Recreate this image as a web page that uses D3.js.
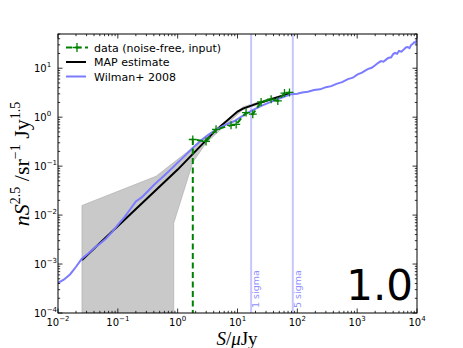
<!DOCTYPE html>
<html>
<head>
<meta charset="utf-8">
<script src="https://cdn.jsdelivr.net/npm/d3@7"></script>
<style>
  body { margin: 0; background: #fff; }
  svg { display: block; }
</style>
</head>
<body>
<div id="chart"></div>
<script>
// Wilman+ 2008 curve
const wilmanS = [0.01, 0.0125, 0.016, 0.02, 0.025, 0.032, 0.04, 0.05, 0.063, 0.08, 0.1, 0.13, 0.16, 0.2, 0.25, 0.32, 0.4, 0.5, 0.63, 0.8, 1.0, 1.3, 1.8, 2.5, 3.2, 4.4, 6, 8.9, 12, 16.9, 25, 36, 50, 79, 100, 120, 150, 190, 240, 300, 370, 450, 560, 700, 850, 1000, 1200, 1500, 1750, 2000, 2250, 2500, 2750, 3000, 3300, 3700, 4000, 4300, 4650, 5000, 5500, 6000, 6500, 7000, 7500, 8000, 8500, 9000, 9500, 10000];
const wilmanN = [0.00041, 0.00048, 0.00062, 0.00088, 0.00128, 0.00165, 0.0021, 0.0026, 0.0033, 0.0045, 0.0063, 0.0092, 0.013, 0.019, 0.023, 0.031, 0.041, 0.053, 0.068, 0.090, 0.118, 0.16, 0.238, 0.34, 0.43, 0.56, 0.68, 0.835, 1.05, 1.34, 1.7, 2.05, 2.4, 2.95, 3.0, 3.2, 3.3, 3.6, 3.7, 4.1, 4.3, 4.8, 5.2, 6.0, 6.4, 7.4, 8.1, 9.6, 10.2, 11.5, 12.9, 14.0, 13.6, 14.8, 16.2, 16.7, 19.5, 20.5, 19.8, 22.5, 21.8, 24, 26.5, 27, 25.8, 30, 31.5, 34, 33, 40];

// MAP estimate
const mapS = [0.0252, 1.0, 4.4, 10, 12.3, 20, 74];
const mapN = [0.00121, 0.085, 0.55, 1.3, 1.5, 1.85, 3.05];

// uncertainty band (upper edge left->right, lower edge right->left)
const bandUpperS = [0.0252, 0.436, 1.79, 3, 5, 12.3, 20, 74];
const bandUpperN = [0.0157, 0.062, 0.24, 0.38, 0.60, 1.62, 1.95, 3.1];
const bandLowerS = [74, 20, 12.3, 5, 3, 1.79, 0.86, 0.86, 0.0252];
const bandLowerN = [3.0, 1.75, 1.42, 0.53, 0.30, 0.12, 0.0069, 0.0001, 0.0001];

// data (noise-free, input); first value is effectively zero
const dataS = [1.79, 1.79, 2.98, 4.38, 7.8, 9.5, 13.9, 18, 24.8, 36.5, 47.2, 61, 74];
const dataN = [1e-6, 0.35, 0.32, 0.565, 0.68, 0.71, 1.24, 1.15, 2.05, 2.33, 2.15, 3.1, 3.2];

// sigma lines
const sigmaS = [16.9, 84];
const sigmaLabels = ["1 sigma", "5 sigma"];

const xTickVals = [1e-2, 1e-1, 1e0, 1e1, 1e2, 1e3, 1e4];
const xTickExp = ["-2", "-1", "0", "1", "2", "3", "4"];
const yTickVals = [1e-4, 1e-3, 1e-2, 1e-1, 1e0, 1e1];
const yTickExp = ["-4", "-3", "-2", "-1", "0", "1"];

const legendLabels = ["data (noise-free, input)", "MAP estimate", "Wilman+ 2008"];

const width = 463;
const height = 348;
const margin = {top: 34, right: 46, bottom: 35, left: 58};

const svg = d3.select("#chart")
    .append("svg")
    .attr("width", width)
    .attr("height", height);

const xScale = d3.scaleLog()
    .domain([1e-2, 1e4])
    .range([margin.left, width - margin.right]);

const yScale = d3.scaleLog()
    .domain([1e-4, 50])
    .range([height - margin.bottom, margin.top]);

svg.append("clipPath").attr("id", "plot-clip")
    .append("rect")
    .attr("x", margin.left)
    .attr("y", margin.top)
    .attr("width", width - margin.left - margin.right)
    .attr("height", height - margin.top - margin.bottom);

const plot = svg.append("g").attr("clip-path", "url(#plot-clip)");

const line = d3.line()
    .x(d => xScale(d[0]))
    .y(d => yScale(d[1]));

// grey band
const bandPts = bandUpperS.map((s, i) => [s, bandUpperN[i]])
    .concat(bandLowerS.map((s, i) => [s, bandLowerN[i]]));
plot.append("path")
    .attr("d", line(bandPts) + "Z")
    .attr("fill", "#c9c9c9")
    .attr("stroke", "#b5b5b5")
    .attr("stroke-width", 0.8);

// sigma lines
sigmaS.forEach((s, i) => {
    plot.append("line")
        .attr("x1", xScale(s)).attr("x2", xScale(s))
        .attr("y1", margin.top).attr("y2", height - margin.bottom)
        .attr("stroke", "#c6c6ff")
        .attr("stroke-width", 2);
    svg.append("text")
        .attr("transform", `translate(${xScale(s) + 8},${height - margin.bottom - 5}) rotate(-90)`)
        .attr("font-family", "DejaVu Sans")
        .attr("font-size", 9.5)
        .attr("fill", "#8f8fff")
        .text(sigmaLabels[i]);
});

// MAP
plot.append("path")
    .attr("d", line(mapS.map((s, i) => [s, mapN[i]])))
    .attr("fill", "none")
    .attr("stroke", "#000")
    .attr("stroke-width", 2);

// Wilman
plot.append("path")
    .attr("d", line(wilmanS.map((s, i) => [s, wilmanN[i]])))
    .attr("fill", "none")
    .attr("stroke", "#7b7bff")
    .attr("stroke-width", 2);

// data
const dataPts = dataS.map((s, i) => [s, dataN[i]]);
plot.append("path")
    .attr("d", line(dataPts))
    .attr("fill", "none")
    .attr("stroke", "#008000")
    .attr("stroke-width", 2)
    .attr("stroke-dasharray", "6,3.5");

function plus(g, cx, cy, size) {
    g.append("path")
        .attr("d", `M${cx - size},${cy}H${cx + size}M${cx},${cy - size}V${cy + size}`)
        .attr("stroke", "#008000")
        .attr("stroke-width", 1.3)
        .attr("fill", "none");
}
dataPts.forEach(d => plus(plot, xScale(d[0]), yScale(d[1]), 4));

// "1.0" label
svg.append("text")
    .attr("x", 413)
    .attr("y", 299.5)
    .attr("text-anchor", "end")
    .attr("font-family", "DejaVu Sans")
    .attr("font-size", 42)
    .text("1.0");

// frame
svg.append("rect")
    .attr("x", margin.left)
    .attr("y", margin.top)
    .attr("width", width - margin.left - margin.right)
    .attr("height", height - margin.top - margin.bottom)
    .attr("fill", "none")
    .attr("stroke", "#000")
    .attr("stroke-width", 1);

// ticks (inward, all four sides)
const minorX = [];
for (let e = -2; e < 4; e++) for (let m = 2; m <= 9; m++) minorX.push(m * Math.pow(10, e));
const minorY = [];
for (let e = -4; e < 2; e++) for (let m = 2; m <= 9; m++) {
    const v = m * Math.pow(10, e);
    if (v <= 50) minorY.push(v);
}
const bottom = height - margin.bottom;
const right = width - margin.right;
const tickG = svg.append("g").attr("stroke", "#000").attr("stroke-width", 0.8);
function xTick(v, len) {
    const x = xScale(v);
    tickG.append("line").attr("x1", x).attr("x2", x).attr("y1", bottom).attr("y2", bottom - len);
    tickG.append("line").attr("x1", x).attr("x2", x).attr("y1", margin.top).attr("y2", margin.top + len);
}
function yTick(v, len) {
    const y = yScale(v);
    tickG.append("line").attr("x1", margin.left).attr("x2", margin.left + len).attr("y1", y).attr("y2", y);
    tickG.append("line").attr("x1", right).attr("x2", right - len).attr("y1", y).attr("y2", y);
}
xTickVals.forEach(v => xTick(v, 4.5));
minorX.forEach(v => xTick(v, 2.2));
yTickVals.forEach(v => yTick(v, 4.5));
minorY.forEach(v => yTick(v, 2.2));

// tick labels
xTickVals.forEach((v, i) => {
    const t = svg.append("text")
        .attr("x", xScale(v))
        .attr("y", bottom + 12.5)
        .attr("text-anchor", "middle")
        .attr("font-family", "DejaVu Sans")
        .attr("font-size", 10);
    t.append("tspan").text("10");
    t.append("tspan").attr("dy", -5).attr("font-size", 7).text(xTickExp[i].replace("-", "\u2212"));
});
yTickVals.forEach((v, i) => {
    const t = svg.append("text")
        .attr("x", 34)
        .attr("y", yScale(v) + 3.8)
        .attr("font-family", "DejaVu Sans")
        .attr("font-size", 10);
    t.append("tspan").text("10");
    t.append("tspan").attr("dy", -5).attr("font-size", 7).text(yTickExp[i].replace("-", "\u2212"));
});

// axis labels
const xl = svg.append("text")
    .attr("x", 237)
    .attr("y", 344.5)
    .attr("text-anchor", "middle")
    .attr("font-family", "Liberation Serif")
    .attr("font-size", 19);
xl.append("tspan").attr("font-style", "italic").text("S");
xl.append("tspan").text("/");
xl.append("tspan").attr("font-style", "italic").text("\u03bc");
xl.append("tspan").text("Jy");

const yl = svg.append("text")
    .attr("transform", "translate(29,164) rotate(-90)")
    .attr("text-anchor", "middle")
    .attr("font-family", "Liberation Serif")
    .attr("font-size", 22);
yl.append("tspan").attr("font-style", "italic").text("nS");
yl.append("tspan").attr("dy", -9).attr("font-size", 14).text("2.5");
yl.append("tspan").attr("dy", 9).text(" /sr");
yl.append("tspan").attr("dy", -9).attr("font-size", 14).text("\u22121");
yl.append("tspan").attr("dy", 9).text(" Jy");
yl.append("tspan").attr("dy", -9).attr("font-size", 14).text("1.5");

// legend
const legendRows = [47.5, 62, 76.5];
const lg = svg.append("g");
legendRows.forEach((y, i) => {
    if (i === 0) {
        lg.append("line").attr("x1", 66).attr("x2", 88).attr("y1", y).attr("y2", y)
            .attr("stroke", "#008000").attr("stroke-width", 2).attr("stroke-dasharray", "6,3.5");
        plus(lg, 77, y, 4.5);
    } else {
        lg.append("line").attr("x1", 66).attr("x2", 86).attr("y1", y).attr("y2", y)
            .attr("stroke", i === 1 ? "#000" : "#7b7bff").attr("stroke-width", 2);
    }
    lg.append("text")
        .attr("x", 94)
        .attr("y", y + 4)
        .attr("font-family", "DejaVu Sans")
        .attr("font-size", 11)
        .text(legendLabels[i]);
});
</script>
</body>
</html>
